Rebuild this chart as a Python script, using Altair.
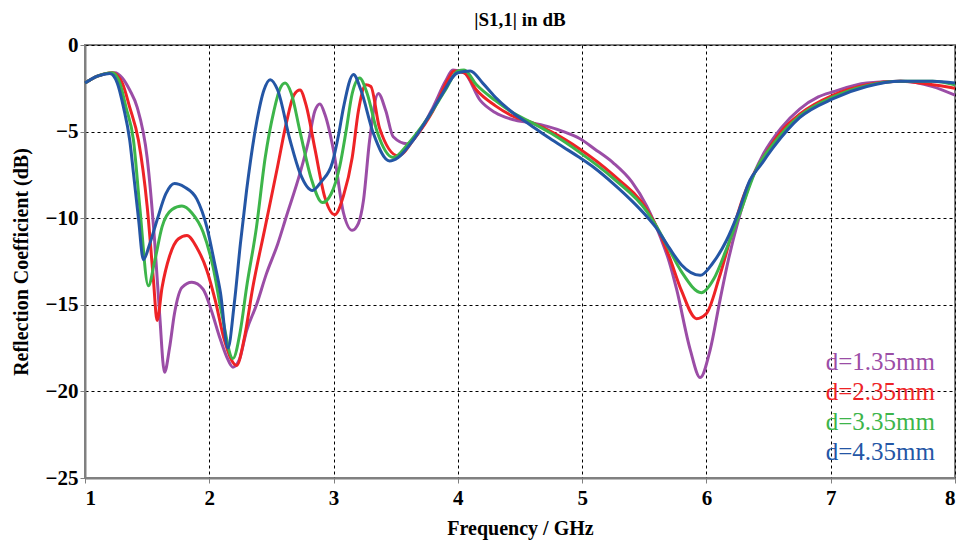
import altair as alt
import pandas as pd

labels = ["d=1.35mm", "d=2.35mm", "d=3.35mm", "d=4.35mm"]
colors = ["#9B4DA6", "#EE2326", "#3DB54A", "#2456A5"]

f_p = [1.0, 1.1, 1.24, 1.3, 1.36, 1.42, 1.5, 1.56, 1.6, 1.64, 1.68, 1.72, 1.78, 1.86, 1.95, 2.02, 2.08, 2.14, 2.19, 2.24, 2.3, 2.38, 2.46, 2.55, 2.62, 2.73, 2.8, 2.85, 2.89, 2.93, 3.0, 3.08, 3.15, 3.2, 3.24, 3.29, 3.36, 3.42, 3.48, 3.59, 3.7, 3.8, 3.9, 3.96, 4.05, 4.18, 4.3, 4.44, 4.6, 4.72, 4.85, 4.98, 5.1, 5.25, 5.4, 5.52, 5.63, 5.7, 5.76, 5.87, 5.95, 6.03, 6.11, 6.18, 6.25, 6.35, 6.45, 6.6, 6.75, 6.9, 7.02, 7.29, 7.56, 7.82, 8.0]
s_p = [-2.2, -1.8, -1.6, -1.9, -2.6, -3.6, -6.5, -11.3, -15.5, -18.9, -17.5, -15.5, -14.0, -13.7, -14.1, -15.4, -16.8, -18.0, -18.6, -18.2, -16.5, -15.0, -13.2, -11.5, -9.9, -7.4, -5.5, -3.8, -3.4, -4.0, -6.1, -9.7, -10.7, -10.3, -9.0, -5.5, -2.8, -3.8, -5.3, -5.7, -4.9, -3.6, -2.1, -1.45, -1.6, -3.2, -3.9, -4.3, -4.5, -4.7, -5.0, -5.4, -6.0, -6.8, -7.9, -9.3, -11.1, -12.5, -14.1, -17.6, -19.2, -17.6, -14.7, -12.3, -10.3, -8.0, -6.4, -4.8, -3.7, -3.0, -2.7, -2.2, -2.1, -2.4, -2.9]

f_r = [1.0, 1.1, 1.22, 1.3, 1.36, 1.43, 1.5, 1.55, 1.58, 1.62, 1.68, 1.75, 1.82, 1.9, 1.98, 2.05, 2.12, 2.22, 2.28, 2.35, 2.45, 2.55, 2.62, 2.68, 2.73, 2.78, 2.85, 2.93, 3.01, 3.08, 3.15, 3.2, 3.26, 3.3, 3.37, 3.52, 3.65, 3.8, 3.92, 3.97, 4.05, 4.15, 4.3, 4.44, 4.6, 4.75, 4.98, 5.25, 5.52, 5.6, 5.7, 5.8, 5.92, 6.0, 6.1, 6.2, 6.3, 6.45, 6.6, 6.75, 7.02, 7.29, 7.56, 7.82, 8.0]
s_r = [-2.2, -1.8, -1.6, -2.2, -3.6, -5.5, -9.3, -13.5, -15.9, -14.0, -12.2, -11.2, -11.0, -11.7, -13.0, -14.8, -17.0, -18.5, -17.0, -14.0, -10.5, -7.0, -4.5, -2.9, -2.6, -3.5, -6.0, -8.8, -9.8, -8.7, -6.5, -3.8, -2.3, -2.4, -4.8, -6.4, -5.4, -3.8, -2.0, -1.5, -1.6, -2.6, -3.5, -4.1, -4.5, -5.0, -6.0, -7.5, -9.5, -10.5, -12.2, -14.2, -15.8, -15.5, -13.5, -11.0, -8.7, -6.6, -5.0, -4.0, -2.9, -2.3, -2.1, -2.3, -2.5]

f_g = [1.0, 1.1, 1.22, 1.28, 1.33, 1.39, 1.44, 1.51, 1.56, 1.62, 1.7, 1.78, 1.86, 1.95, 2.03, 2.1, 2.19, 2.25, 2.3, 2.38, 2.45, 2.52, 2.57, 2.61, 2.66, 2.73, 2.82, 2.91, 2.98, 3.05, 3.1, 3.15, 3.21, 3.27, 3.35, 3.48, 3.6, 3.75, 3.9, 4.0, 4.05, 4.15, 4.3, 4.44, 4.6, 4.75, 4.98, 5.25, 5.52, 5.6, 5.7, 5.8, 5.96, 6.06, 6.16, 6.27, 6.4, 6.54, 6.75, 7.02, 7.29, 7.56, 7.82, 8.0]
s_g = [-2.2, -1.8, -1.6, -2.2, -3.6, -5.5, -9.3, -13.9, -12.5, -10.5, -9.5, -9.3, -9.7, -10.8, -12.8, -15.5, -18.1, -16.5, -14.0, -10.5, -6.5, -3.8, -2.5, -2.2, -2.8, -5.0, -7.7, -9.1, -8.6, -7.0, -5.0, -2.8, -1.9, -2.8, -5.0, -6.5, -5.7, -4.3, -2.6, -1.5, -1.45, -2.3, -3.2, -3.9, -4.5, -5.1, -6.2, -7.7, -9.6, -10.5, -11.8, -13.1, -14.3, -13.5, -11.8, -9.7, -7.2, -5.7, -4.1, -3.0, -2.35, -2.1, -2.1, -2.3]

f_b = [1.0, 1.1, 1.2, 1.26, 1.31, 1.36, 1.39, 1.43, 1.47, 1.52, 1.58, 1.65, 1.72, 1.8, 1.9, 1.98, 2.04, 2.09, 2.15, 2.2, 2.25, 2.3, 2.38, 2.44, 2.49, 2.55, 2.65, 2.73, 2.83, 2.9, 2.99, 3.04, 3.08, 3.16, 3.22, 3.32, 3.45, 3.52, 3.64, 3.75, 3.86, 4.0, 4.1, 4.2, 4.3, 4.44, 4.58, 4.72, 4.85, 4.98, 5.1, 5.25, 5.4, 5.52, 5.59, 5.7, 5.8, 5.95, 6.05, 6.16, 6.25, 6.35, 6.43, 6.54, 6.75, 7.02, 7.29, 7.56, 7.82, 8.0]
s_b = [-2.2, -1.8, -1.65, -2.2, -3.6, -5.5, -7.4, -10.0, -12.4, -11.5, -10.1, -8.6, -8.0, -8.2, -8.9, -10.5, -12.5, -14.3, -17.5, -15.0, -11.5, -8.4, -4.5, -2.6, -2.0, -2.6, -5.5, -7.4, -8.4, -7.9, -6.8, -5.2, -3.6, -1.7, -2.6, -5.1, -6.7, -6.5, -5.5, -4.3, -3.0, -1.6, -1.5, -2.2, -3.0, -3.9, -4.6, -5.3, -5.9, -6.5, -7.1, -8.0, -9.0, -9.9, -10.5, -11.7, -12.7, -13.3, -12.6, -11.3, -9.8, -7.8, -7.0, -5.9, -4.2, -3.1, -2.4, -2.1, -2.1, -2.2]

series = [(labels[0], f_p, s_p), (labels[1], f_r, s_r), (labels[2], f_g, s_g), (labels[3], f_b, s_b)]
rows = []
for name, fs, ss in series:
    for i, (f, s) in enumerate(zip(fs, ss)):
        rows.append({"d": name, "f": f, "s": s, "o": i})
df = pd.DataFrame(rows)

FONT = "Liberation Serif"

lines = alt.Chart(df).mark_line(strokeWidth=3, interpolate="monotone").encode(
    x=alt.X("f:Q", scale=alt.Scale(domain=[1, 8], nice=False),
            axis=alt.Axis(values=[1, 2, 3, 4, 5, 6, 7, 8], title="Frequency / GHz", format="d")),
    y=alt.Y("s:Q", scale=alt.Scale(domain=[-25, 0], nice=False),
            axis=alt.Axis(values=[0, -5, -10, -15, -20, -25], title="Reflection Coefficient (dB)", format="d")),
    color=alt.Color("d:N", scale=alt.Scale(domain=labels, range=colors), legend=None),
    order="o:Q",
    detail="d:N",
)

layers = [lines]
for i, (lab, col) in enumerate(zip(labels, colors)):
    layers.append(
        alt.Chart(pd.DataFrame({"t": [lab]})).mark_text(
            font=FONT, fontSize=25, color=col, align="right", baseline="alphabetic"
        ).encode(text="t:N", x=alt.value(850), y=alt.value(325 + i * 30))
    )

chart = alt.layer(*layers).properties(
    width=870, height=433,
    title=alt.TitleParams("|S1,1| in dB", font=FONT, fontSize=19, fontWeight="bold", color="black", offset=4),
    autosize=alt.AutoSizeParams(type="none"),
    padding={"left": 85, "top": 45, "right": 3, "bottom": 65},
).configure_view(
    stroke="#808080", strokeWidth=2
).configure_axis(
    labelFont=FONT, labelFontSize=21, labelFontWeight="bold", labelColor="black",
    titleFont=FONT, titleFontSize=20, titleFontWeight="bold", titleColor="black",
    grid=True, gridColor="black", gridDash=[3, 3], gridWidth=1, gridOpacity=1,
    domainColor="#808080", domainWidth=2, tickColor="#808080", tickSize=5, labelPadding=2,
).configure_axisX(titlePadding=10, labelPadding=4).configure_axisY(titlePadding=14)

chart.save("out.html", embed_options={"renderer": "svg", "actions": False})
